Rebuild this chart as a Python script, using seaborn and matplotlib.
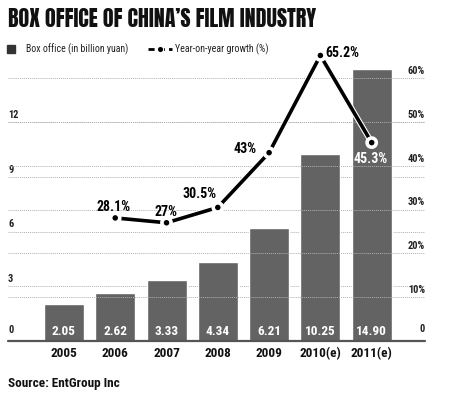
import matplotlib
matplotlib.use("Agg")
import matplotlib.pyplot as plt
import matplotlib.patheffects as pe
import matplotlib.transforms as mtransforms
import pandas as pd
import seaborn as sns

# ----------------------------
# Data
# ----------------------------

years = ["2005", "2006", "2007", "2008", "2009", "2010(e)", "2011(e)"]
box_office = [2.05, 2.62, 3.33, 4.34, 6.21, 10.25, 14.90]
box_labels = ["2.05", "2.62", "3.33", "4.34", "6.21", "10.25", "14.90"]

growth_years = ["2006", "2007", "2008", "2009", "2010(e)", "2011(e)"]
growth = [28.1, 27, 30.5, 43, 65.2, 45.3]
growth_labels = ["28.1%", "27%", "30.5%", "43%", "65.2%", "45.3%"]

left_ticks = [0, 3, 6, 9, 12]
right_ticks = [0, 10, 20, 30, 40, 50, 60]

sns.set_theme(style="white")
plt.rcParams["font.family"] = ["Roboto Condensed", "DejaVu Sans"]
TITLE_FONT = ["Anton", "Oswald", "DejaVu Sans"]

BAR = "#636363"
GRID = "#b0b0b0"

fig = plt.figure(figsize=(4.5, 3.93), dpi=100)
ax = fig.add_axes([0.0178, 0.1323, 0.9267, 0.7277])
ax2 = ax.twinx()

# ----------------------------
# Bars
# ----------------------------

df = pd.DataFrame({"year": years, "box": box_office})
sns.barplot(data=df, x="year", y="box", color=BAR, saturation=1,
            width=0.78, ax=ax, zorder=3)

ax.set_xlim(-1.09, 7.04)
ax.set_ylim(0, 15.67)
ax2.set_ylim(0, 65.3)

for s in list(ax.spines.values()) + list(ax2.spines.values()):
    s.set_visible(False)
ax.axhline(0, color="#555555", lw=1.6, zorder=5, clip_on=False)

# dotted gridlines for both scales
for v in left_ticks[1:]:
    ax.axhline(v, color=GRID, lw=0.7, ls=(0, (1, 1)), zorder=1)
for v in right_ticks[1:]:
    ax2.axhline(v, color=GRID, lw=0.7, ls=(0, (1, 1)), zorder=0)

ax.set_yticks([])
ax2.set_yticks([])
ax.set_xlabel("")
ax.set_ylabel("")
ax2.set_ylabel("")
ax.tick_params(axis="x", length=0, pad=4)
ax.set_xticks(range(len(years)))
ax.set_xticklabels(years, fontsize=9.5, fontweight="bold", color="#111111")

# axis values written just above the gridlines
tl = mtransforms.blended_transform_factory(ax.transAxes, ax.transData)
tr = mtransforms.blended_transform_factory(ax2.transAxes, ax2.transData)
for v in left_ticks:
    ax.text(0.0, v + (0.35 if v == 0 else 0.12), str(v), transform=tl,
            ha="left", va="bottom", fontsize=7.5, fontweight="bold", color="#222222")
for v in right_ticks:
    lab = "0" if v == 0 else f"{v}%"
    ax2.text(1.0, v + (1.5 if v == 0 else 0.5), lab, transform=tr,
             ha="right", va="bottom", fontsize=7.5, fontweight="bold", color="#222222")

for i, lab in enumerate(box_labels):
    ax.text(i, 0.5, lab, ha="center", va="center", color="white",
            fontsize=9.5, fontweight="bold", zorder=6)

# ----------------------------
# Growth line
# ----------------------------

gx = [years.index(y) for y in growth_years]
ax2.set_zorder(ax.get_zorder() + 1)
ax2.patch.set_visible(False)
sns.lineplot(x=gx, y=growth, ax=ax2, color="black", lw=2.6, sort=False,
             marker="o", markersize=5, markerfacecolor="black",
             markeredgecolor="white", markeredgewidth=1.0,
             path_effects=[pe.Stroke(linewidth=4.2, foreground="white"), pe.Normal()],
             clip_on=False, zorder=4)
ax2.set_xlim(-1.09, 7.04)

offsets = [(-2, 11), (-1, 11), (-18, 13), (-24, 4), (22, 2), (-1, -16)]
for x, y, lab, off in zip(gx, growth, growth_labels, offsets):
    ax2.annotate(lab, (x, y), xytext=off, textcoords="offset pixels",
                 ha="center", va="center", fontsize=10, fontweight="bold",
                 color="white" if lab == "45.3%" else "black", zorder=7)

# ----------------------------
# Title, legend, source
# ----------------------------

fig.text(8 / 450, 1 - 19 / 393, "BOX OFFICE OF CHINA\u2019S FILM INDUSTRY",
         ha="left", va="center", fontsize=15.8, family=TITLE_FONT, color="#111111")

fig.patches.append(plt.Rectangle((7 / 450, 1 - 53 / 393), 8 / 450, 8 / 393,
                                 transform=fig.transFigure, color="#333333"))
fig.text(26 / 450, 1 - 49 / 393, "Box office (in billion yuan)",
         ha="left", va="center", fontsize=7.1, color="#222222")
fig.lines.append(plt.Line2D([148 / 450, 172 / 450], [1 - 49 / 393] * 2,
                            transform=fig.transFigure, color="black", lw=2,
                            ls=(0, (2.2, 1.5))))
fig.lines.append(plt.Line2D([160 / 450], [1 - 49 / 393], transform=fig.transFigure,
                            color="black", marker="o", markersize=4.5, lw=0,
                            markeredgecolor="white", markeredgewidth=0.8))
fig.text(175 / 450, 1 - 49 / 393, "Year-on-year growth (%)",
         ha="left", va="center", fontsize=7.2, color="#222222")

fig.text(8 / 450, 1 - 383 / 393, "Source: EntGroup Inc",
         ha="left", va="center", fontsize=9.5, fontweight="bold", color="#111111")

fig.savefig("out.png", dpi=100, facecolor="white")
